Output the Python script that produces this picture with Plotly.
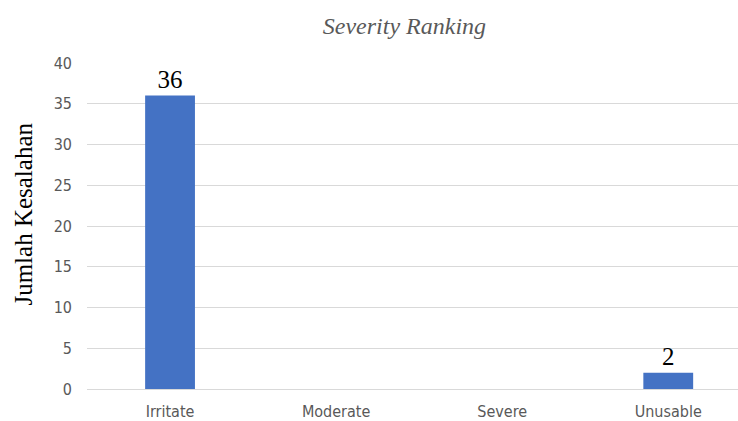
import plotly.graph_objects as go

categories = ["Irritate", "Moderate", "Severe", "Unusable"]
counts = [36, 0, 0, 2]
y_ticks = [0, 5, 10, 15, 20, 25, 30, 35, 40]

bar_labels = [str(v) if v else "" for v in counts]

serif = "Liberation Serif, Times New Roman, serif"
narrow = "Liberation Sans Narrow, DejaVu Sans Condensed, Arial Narrow, sans-serif"

fig = go.Figure(
    go.Bar(
        x=categories,
        y=counts,
        width=0.3,
        marker=dict(color="#4472C4", line=dict(width=0)),
        text=bar_labels,
        textposition="outside",
        cliponaxis=False,
        textfont=dict(family=serif, size=25, color="#000000"),
    )
)

fig.update_layout(
    width=738,
    height=421,
    margin=dict(l=87, r=0, t=63, b=32),
    paper_bgcolor="white",
    plot_bgcolor="white",
    showlegend=False,
    title=dict(
        text="<i>Severity Ranking</i>",
        x=0.548,
        xanchor="center",
        y=0.94,
        yanchor="middle",
        font=dict(family=serif, size=24, color="#595959"),
    ),
    xaxis=dict(
        type="category",
        range=[-0.5, 3.42],
        showgrid=False,
        showline=False,
        zeroline=False,
        ticks="",
        ticklabelstandoff=11,
        tickfont=dict(family=narrow, size=16, color="#595959"),
    ),
    yaxis=dict(
        range=[0, 40],
        tickvals=y_ticks,
        showgrid=True,
        gridcolor="#d9d9d9",
        gridwidth=1,
        zeroline=True,
        zerolinecolor="#d9d9d9",
        zerolinewidth=1,
        showline=False,
        ticks="",
        ticklabelstandoff=14,
        tickfont=dict(family=narrow, size=16, color="#595959"),
    ),
    annotations=[
        dict(
            text="Jumlah Kesalahan",
            textangle=-90,
            xref="paper",
            yref="paper",
            x=0,
            y=0.535,
            xanchor="center",
            yanchor="middle",
            xshift=-63,
            showarrow=False,
            font=dict(family=serif, size=25, color="#000000"),
        )
    ],
)

fig.write_html("out.html")
